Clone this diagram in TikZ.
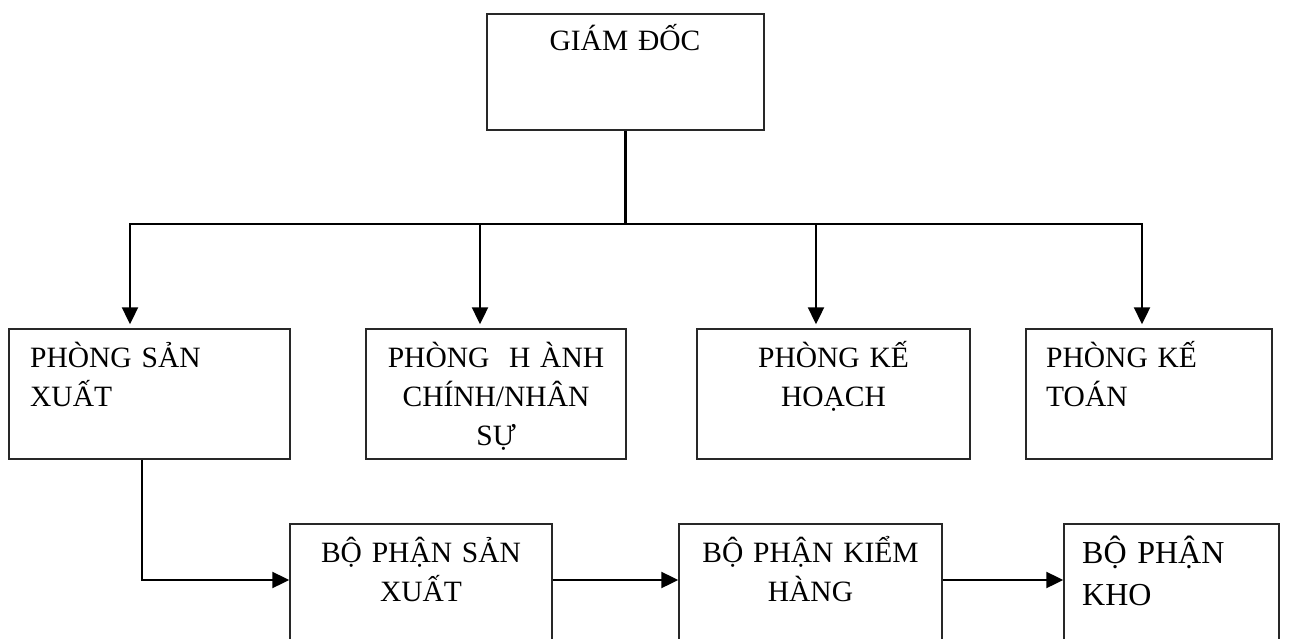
\documentclass[tikz,border=0pt]{standalone}
\usepackage{fontspec}
\setmainfont{Liberation Serif}
\usepackage{tikz}
\usetikzlibrary{arrows.meta,positioning,calc}
\definecolor{boxline}{RGB}{40,40,40}

\begin{document}
\begin{tikzpicture}[x=1pt,y=-1pt,
  unit/.style={draw=boxline,line width=1.5pt,inner sep=0pt},
  lbl/.style={inner sep=0pt,font=\fontsize{29.5}{39}\selectfont},
  wire/.style={line width=2.4pt},
  link/.style={wire,-{Triangle[length=17pt,width=16pt]}}]
\clip (0,0) rectangle (1293,639);
\node[unit,minimum width=277,minimum height=116] (gd) at (625.5,72) {};
\foreach \n/\cx/\w in {ps/149.5/281,hc/496/260,kh/833.5/273,kt/1149/246}{
  \node[unit,minimum width=\w,minimum height=130] (\n) at (\cx,394) {};
}
\node[unit,minimum width=262,minimum height=156] (bs) at (421,602) {};
\node[unit,minimum width=263,minimum height=156] (bk) at (810.5,602) {};
\node[unit,minimum width=215,minimum height=156] (bh) at (1171.5,602) {};

\node[lbl,anchor=base,text width=250,align=center] (gd-t) at (625,51) {GIÁM ĐỐC};
\node[lbl,anchor=base west,text width=255,align=left] (ps-t) at (30,367) {PHÒNG SẢN\\XUẤT};
\node[lbl,anchor=base,text width=240,align=center] (hc-t) at (496,367) {PHÒNG\ \ H ÀNH\\CHÍNH/NHÂN\\SỰ};
\node[lbl,anchor=base,text width=250,align=center] (kh-t) at (833.5,367) {PHÒNG KẾ\\HOẠCH};
\node[lbl,anchor=base west,text width=220,align=left] (kt-t) at (1046,367) {PHÒNG KẾ\\TOÁN};
\node[lbl,anchor=base,text width=245,align=center] (bs-t) at (421,562) {BỘ PHẬN SẢN\\XUẤT};
\node[lbl,anchor=base,text width=245,align=center] (bk-t) at (810.5,562) {BỘ PHẬN KIỂM\\HÀNG};
\node[lbl,anchor=base west,text width=190,align=left,font=\fontsize{32}{42}\selectfont] (bh-t) at (1082,563) {BỘ PHẬN\\KHO};

\foreach \ax [count=\i] in {130,480,816,1142}
  \coordinate (a\i) at (\ax,224);
\draw[wire] (gd.south) -- (gd.south |- a1);
\draw[wire,line cap=rect] (a1) -- (a4);
\foreach \n [count=\i] in {ps,hc,kh,kt}
  \draw[link,shorten >=4pt] (a\i) -- (a\i |- \n.north);

\coordinate (drop) at (142,580);
\draw[link] (ps.south -| drop) -- (drop) -- (bs.west |- drop);
\draw[link] (bs.east |- drop) -- (bk.west |- drop);
\draw[link] (bk.east |- drop) -- (bh.west |- drop);
\end{tikzpicture}
\end{document}
